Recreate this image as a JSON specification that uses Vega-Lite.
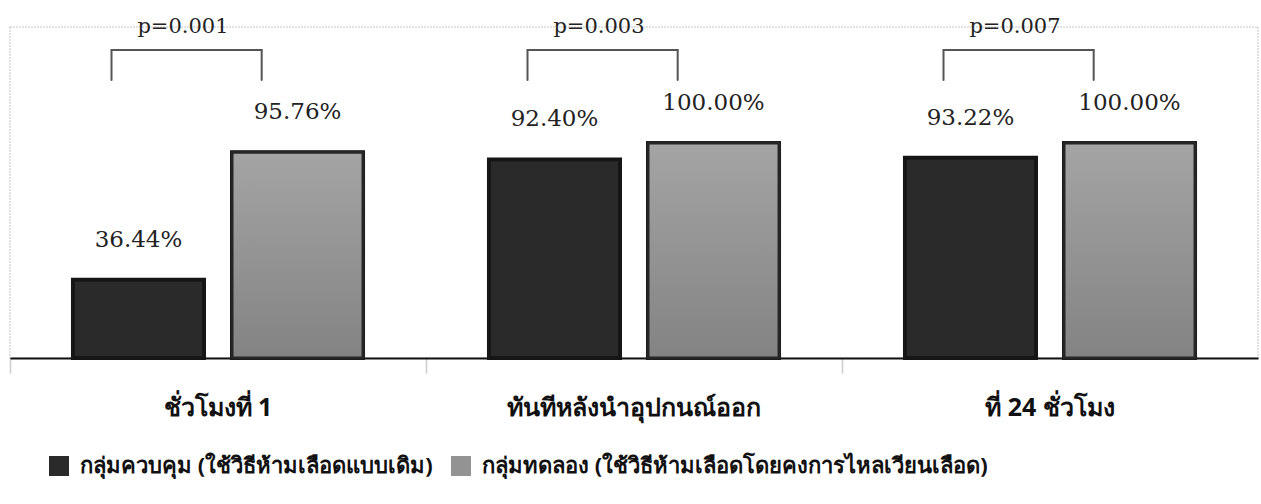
{
  "$schema": "https://vega.github.io/schema/vega-lite/v6.json",
  "width": 1248,
  "height": 331,
  "autosize": {"type": "none"},
  "padding": {"left": 10, "top": 27, "right": 3, "bottom": 146},
  "background": "white",
  "config": {
    "view": {"stroke": "#d8d8d8", "strokeWidth": 1.5, "strokeDash": [2, 1]},
    "font": "Noto Sans"
  },
  "datasets": {
    "rates": [
      {"time": "ชั่วโมงที่ 1", "arm": "กลุ่มควบคุม (ใช้วิธีห้ามเลือดแบบเดิม)", "value": 36.44},
      {"time": "ชั่วโมงที่ 1", "arm": "กลุ่มทดลอง (ใช้วิธีห้ามเลือดโดยคงการไหลเวียนเลือด)", "value": 95.76},
      {"time": "ทันทีหลังนำอุปกนณ์ออก", "arm": "กลุ่มควบคุม (ใช้วิธีห้ามเลือดแบบเดิม)", "value": 92.40},
      {"time": "ทันทีหลังนำอุปกนณ์ออก", "arm": "กลุ่มทดลอง (ใช้วิธีห้ามเลือดโดยคงการไหลเวียนเลือด)", "value": 100.00},
      {"time": "ที่ 24 ชั่วโมง", "arm": "กลุ่มควบคุม (ใช้วิธีห้ามเลือดแบบเดิม)", "value": 93.22},
      {"time": "ที่ 24 ชั่วโมง", "arm": "กลุ่มทดลอง (ใช้วิธีห้ามเลือดโดยคงการไหลเวียนเลือด)", "value": 100.00}
    ],
    "pvalues": [
      {"time": "ชั่วโมงที่ 1", "p": "p=0.001"},
      {"time": "ทันทีหลังนำอุปกนณ์ออก", "p": "p=0.003"},
      {"time": "ที่ 24 ชั่วโมง", "p": "p=0.007"}
    ]
  },
  "encoding": {
    "x": {
      "field": "time",
      "type": "nominal",
      "sort": null,
      "scale": {"paddingInner": 0, "paddingOuter": 0},
      "axis": {
        "title": null,
        "labelAngle": 0,
        "bandPosition": 0,
        "domainColor": "#111111",
        "domainWidth": 2,
        "tickColor": "#cccccc",
        "tickWidth": 1.5,
        "tickSize": 15,
        "labelFont": "Noto Sans",
        "labelFontSize": 25,
        "labelFontWeight": "bold",
        "labelColor": "#111111",
        "labelPadding": 22,
        "labelLimit": 500
      }
    }
  },
  "layer": [
    {
      "data": {"name": "rates"},
      "mark": {"type": "bar", "stroke": "#161616", "strokeWidth": 4},
      "encoding": {
        "xOffset": {
          "field": "arm",
          "type": "nominal",
          "sort": null,
          "scale": {"paddingInner": 0.176, "paddingOuter": 0.396}
        },
        "y": {
          "field": "value",
          "type": "quantitative",
          "scale": {"domain": [0, 154], "nice": false, "zero": true},
          "axis": null
        },
        "color": {
          "field": "arm",
          "type": "nominal",
          "sort": null,
          "scale": {"range": ["#2a2a2a", "#939393"]},
          "legend": {
            "title": null,
            "orient": "none",
            "legendX": 38,
            "legendY": 428,
            "direction": "horizontal",
            "symbolType": "square",
            "symbolSize": 400,
            "symbolStrokeWidth": 0,
            "labelFont": "Noto Sans",
            "labelFontSize": 22,
            "labelFontWeight": "bold",
            "labelColor": "#111111",
            "labelOffset": 10,
            "labelLimit": 700,
            "columnPadding": 17
          }
        }
      }
    },
    {
      "data": {"name": "rates"},
      "transform": [{"filter": "datum.value > 95"}],
      "mark": {
        "type": "bar",
        "stroke": "#262626",
        "strokeWidth": 3,
        "fill": {
          "gradient": "linear",
          "x1": 0, "y1": 0, "x2": 0, "y2": 1,
          "stops": [
            {"offset": 0, "color": "#a4a4a4"},
            {"offset": 1, "color": "#838383"}
          ]
        }
      },
      "encoding": {
        "xOffset": {"field": "arm", "type": "nominal", "sort": null},
        "y": {"field": "value", "type": "quantitative"}
      }
    },
    {
      "data": {"name": "rates"},
      "transform": [{"calculate": "format(datum.value, '.2f') + '%'", "as": "label"}],
      "mark": {
        "type": "text",
        "font": "DejaVu Serif",
        "fontSize": 23,
        "color": "#222222",
        "baseline": "middle",
        "dy": -40
      },
      "encoding": {
        "xOffset": {"field": "arm", "type": "nominal", "sort": null},
        "y": {"field": "value", "type": "quantitative"},
        "text": {"field": "label"}
      }
    },
    {
      "data": {"name": "pvalues"},
      "mark": {"type": "rule", "color": "#555555", "strokeWidth": 2, "strokeCap": "round", "clip": false},
      "encoding": {
        "x": {"field": "time", "type": "nominal", "sort": null, "bandPosition": 0.244},
        "x2": {"field": "time", "bandPosition": 0.605},
        "y": {"datum": 143.3, "type": "quantitative"}
      }
    },
    {
      "data": {"name": "pvalues"},
      "mark": {"type": "rule", "color": "#555555", "strokeWidth": 2, "strokeCap": "round", "clip": false},
      "encoding": {
        "x": {"field": "time", "type": "nominal", "sort": null, "bandPosition": 0.244},
        "y": {"datum": 129.3, "type": "quantitative"},
        "y2": {"datum": 143.3}
      }
    },
    {
      "data": {"name": "pvalues"},
      "mark": {"type": "rule", "color": "#555555", "strokeWidth": 2, "strokeCap": "round", "clip": false},
      "encoding": {
        "x": {"field": "time", "type": "nominal", "sort": null, "bandPosition": 0.605},
        "y": {"datum": 129.3, "type": "quantitative"},
        "y2": {"datum": 143.3}
      }
    },
    {
      "data": {"name": "pvalues"},
      "mark": {
        "type": "text",
        "font": "DejaVu Serif",
        "fontSize": 21,
        "color": "#222222",
        "baseline": "middle",
        "dx": -35,
        "clip": false
      },
      "encoding": {
        "y": {"datum": 154, "type": "quantitative"},
        "text": {"field": "p"}
      }
    }
  ]
}
